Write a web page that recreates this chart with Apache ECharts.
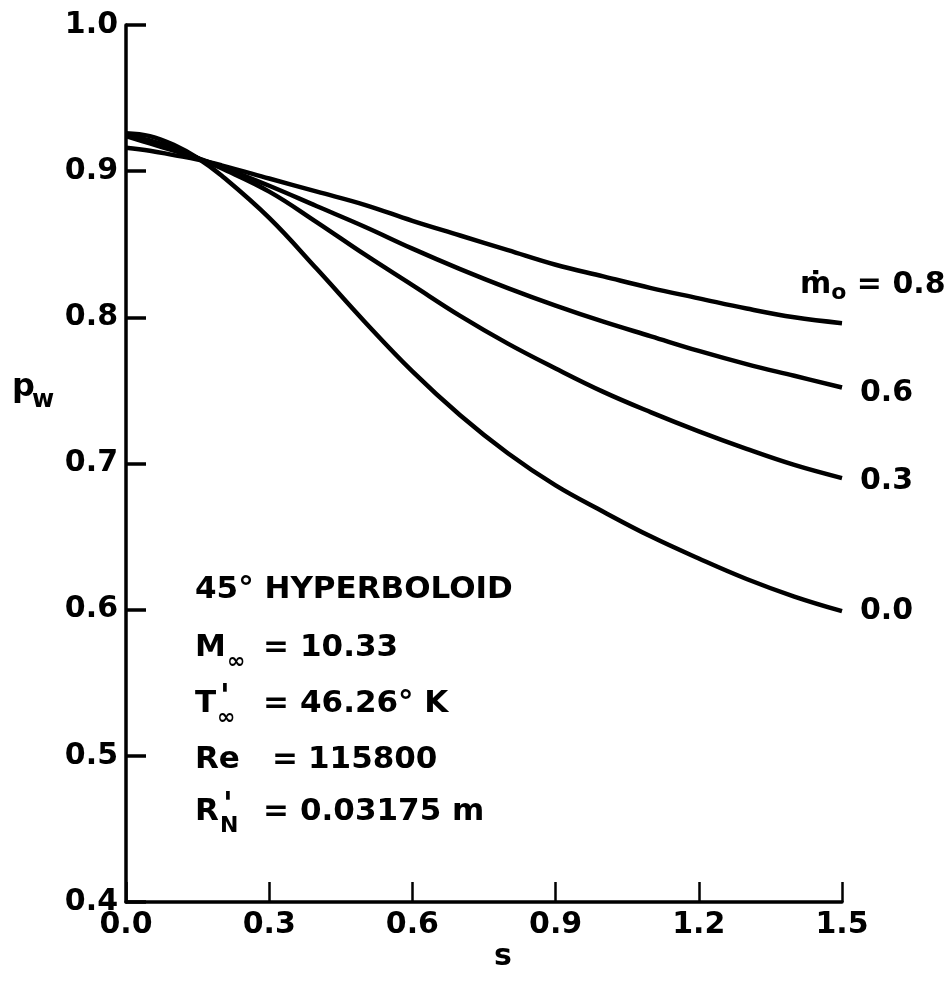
<!DOCTYPE html>
<html>
<head>
<meta charset="utf-8">
<script src="https://cdn.jsdelivr.net/npm/echarts@6/dist/echarts.min.js"></script>
<style>
  html, body { margin: 0; padding: 0; background: #fff; }
  #chart { width: 951px; height: 982px; }
</style>
</head>
<body>
<div id="chart"></div>
<script>
// Wall pressure along a 45° hyperboloid for several blowing rates
const sValues = [0, 0.05, 0.1, 0.15, 0.2, 0.3, 0.4, 0.5, 0.6, 0.7, 0.8, 0.9, 1.0, 1.1, 1.2, 1.3, 1.4, 1.5];

const pw00 = [0.926, 0.924, 0.918, 0.909, 0.897, 0.868, 0.833, 0.797, 0.763, 0.733, 0.707, 0.685, 0.667, 0.650, 0.635, 0.621, 0.609, 0.599];
const pw03 = [0.925, 0.921, 0.916, 0.909, 0.902, 0.886, 0.865, 0.843, 0.822, 0.801, 0.782, 0.765, 0.749, 0.735, 0.722, 0.710, 0.699, 0.690];
const pw06 = [0.924, 0.919, 0.914, 0.909, 0.903, 0.890, 0.876, 0.862, 0.847, 0.833, 0.820, 0.808, 0.797, 0.787, 0.777, 0.768, 0.760, 0.752];
const pw08 = [0.916, 0.914, 0.911, 0.908, 0.904, 0.895, 0.886, 0.877, 0.866, 0.856, 0.846, 0.836, 0.828, 0.820, 0.813, 0.806, 0.800, 0.796];

const curveLabels = ['0.0', '0.3', '0.6', '0.8'];
const xTicks = [0, 0.3, 0.6, 0.9, 1.2, 1.5];
const yTicks = [0.4, 0.5, 0.6, 0.7, 0.8, 0.9, 1.0];

// Flow conditions block: symbol, superscript, subscript, value
const condTitle = '45° HYPERBOLOID';
const condSymbols = ['M', 'T', 'Re', 'R'];
const condSup = ['', "'", '', "'"];
const condSub = ['∞', '∞', '', 'N'];
const condValues = ['10.33', '46.26° K', '115800', '0.03175 m'];

const FONT = 'DejaVu Sans';
const INK = '#000';

const chart = echarts.init(document.getElementById('chart'));

function pairs(ys) { return sValues.map((s, i) => [s, ys[i]]); }

function curve(ys, idx, labelCfg) {
  return {
    type: 'line',
    data: pairs(ys),
    smooth: 0.4,
    showSymbol: false,
    lineStyle: { color: INK, width: 4.5 },
    endLabel: Object.assign({
      show: true,
      color: INK,
      fontFamily: FONT,
      fontSize: 30,
      fontWeight: 'bold',
      formatter: curveLabels[idx]
    }, labelCfg || {})
  };
}

function txt(x, y, text, size, align) {
  return {
    type: 'text', x: x, y: y,
    style: {
      text: text, fill: INK,
      font: 'bold ' + size + 'px "DejaVu Sans"',
      align: align || 'left', verticalAlign: 'middle'
    }
  };
}

// annotation block, one row per condition
const graphics = [
  txt(503, 957, 's', 30, 'center'),
  txt(12, 388, 'p', 32),
  txt(32, 401, 'w', 24),
  txt(195, 590, condTitle, 31)
];
const rowY = [648, 704, 760, 812];
const symW = { M: 31, T: 21, Re: 46, R: 24 };
condSymbols.forEach((sym, i) => {
  const y = rowY[i];
  graphics.push(txt(195, y, sym, 31));
  const xs = 195 + symW[sym] + 1;
  if (condSup[i]) graphics.push(txt(xs + 3, y - 6, condSup[i], 32));
  if (condSub[i]) graphics.push(txt(xs, y + 14, condSub[i], 22));
  graphics.push(txt(i === 2 ? 272 : 263, y, '=', 31));
  graphics.push(txt(i === 2 ? 308 : 300, y, condValues[i], 31));
});

chart.setOption({
  animation: false,
  backgroundColor: '#fff',
  grid: { left: 126, right: 109, top: 25, bottom: 80 },
  xAxis: {
    type: 'value',
    min: 0, max: 1.5, interval: 0.3,
    axisLine: { show: true, lineStyle: { color: INK, width: 3.5 } },
    axisTick: { show: true, inside: true, length: 20, lineStyle: { color: INK, width: 2.5 } },
    splitLine: { show: false },
    axisLabel: {
      color: INK, fontFamily: FONT, fontSize: 30, fontWeight: 'bold', margin: 8,
      formatter: v => xTicks.find(t => Math.abs(t - v) < 1e-9).toFixed(1)
    }
  },
  yAxis: {
    type: 'value',
    min: 0.4, max: 1.0, interval: 0.1,
    axisLine: { show: true, lineStyle: { color: INK, width: 3.5 } },
    axisTick: { show: true, inside: true, length: 20, lineStyle: { color: INK, width: 3.5 } },
    splitLine: { show: false },
    axisLabel: {
      color: INK, fontFamily: FONT, fontSize: 30, fontWeight: 'bold', margin: 8,
      formatter: v => yTicks.find(t => Math.abs(t - v) < 1e-9).toFixed(1)
    }
  },
  series: [
    curve(pw00, 0, { distance: 18 }),
    curve(pw03, 1, { distance: 18, offset: [0, 3] }),
    curve(pw06, 2, { distance: 18, offset: [0, 6] }),
    curve(pw08, 3, {
      distance: 0,
      offset: [-42, -38],
      formatter: '{m|ṁ}{o|o}{m| = 0.8}',
      rich: {
        m: { fontFamily: FONT, fontSize: 30, fontWeight: 'bold', color: INK },
        o: { fontFamily: FONT, fontSize: 22, fontWeight: 'bold', color: INK, padding: [16, 0, 0, 0] }
      }
    })
  ],
  graphic: graphics
});
</script>
</body>
</html>
